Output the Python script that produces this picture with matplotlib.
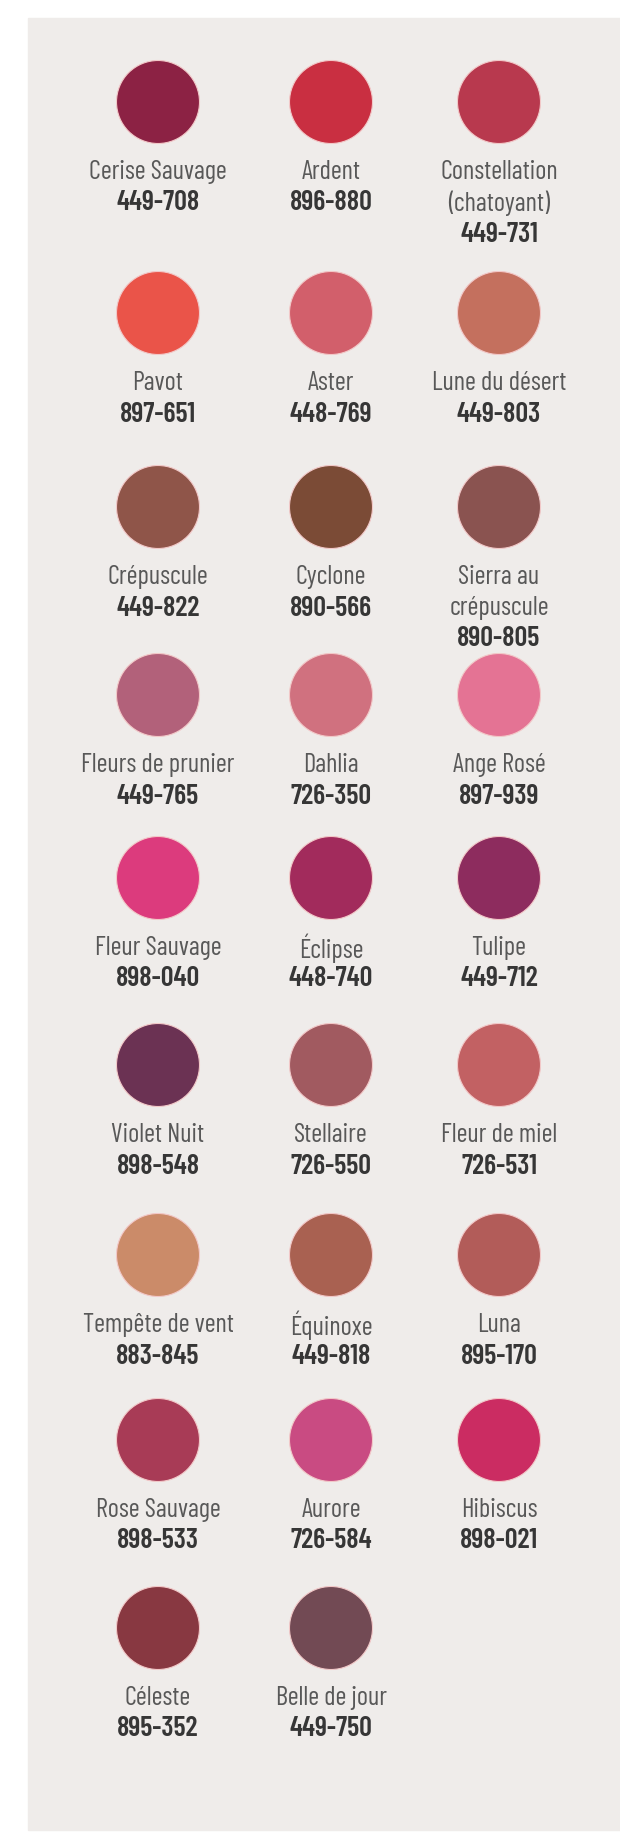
import matplotlib
matplotlib.use("Agg")
from matplotlib import pyplot as plt
from matplotlib import font_manager
from matplotlib.patches import Circle, Rectangle

# teintes, dans l'ordre de lecture (gauche -> droite, haut -> bas)
noms = ['Cerise Sauvage', 'Ardent', 'Constellation\n(chatoyant)',
        'Pavot', 'Aster', 'Lune du désert',
        'Crépuscule', 'Cyclone', 'Sierra au\ncrépuscule',
        'Fleurs de prunier', 'Dahlia', 'Ange Rosé',
        'Fleur Sauvage', 'Éclipse', 'Tulipe',
        'Violet Nuit', 'Stellaire', 'Fleur de miel',
        'Tempête de vent', 'Équinoxe', 'Luna',
        'Rose Sauvage', 'Aurore', 'Hibiscus',
        'Céleste', 'Belle de jour']
codes = ['449-708', '896-880', '449-731',
         '897-651', '448-769', '449-803',
         '449-822', '890-566', '890-805',
         '449-765', '726-350', '897-939',
         '898-040', '448-740', '449-712',
         '898-548', '726-550', '726-531',
         '883-845', '449-818', '895-170',
         '898-533', '726-584', '898-021',
         '895-352', '449-750']
couleurs = ['#8c2244', '#c92f41', '#b8394e',
            '#ea5449', '#d25f6b', '#c4705e',
            '#8f5549', '#7b4b36', '#8a5350',
            '#b2617a', '#d0717f', '#e47394',
            '#dc3b7d', '#a22b5c', '#8d2c5e',
            '#6b3253', '#a15a60', '#c26163',
            '#cb8b69', '#a96151', '#b25c59',
            '#a83b56', '#c94b82', '#cb2c62',
            '#883841', '#724a54']

# mise en page (pixels)
W, H = 620, 1834
col_x = [158, 331, 499]
row_y = [102, 313, 507, 695, 878, 1065, 1255, 1440, 1628]
rayon = 41.5
interligne = 31

# police etroite si dispo
candidats = ['Barlow Condensed', 'Fira Sans Extra Condensed', 'Fira Sans Condensed',
             'Roboto Condensed', 'Archivo Narrow', 'Liberation Sans Narrow', 'DejaVu Sans']
dispo = {f.name for f in font_manager.fontManager.ttflist}
police = next(c for c in candidats if c in dispo)
plt.rcParams['font.family'] = [police, 'DejaVu Sans']

fig = plt.figure(figsize=(W / 100, H / 100), dpi=100)
ax = fig.add_axes([0, 0, 1, 1])
ax.set_xlim(0, W)
ax.set_ylim(H, 0)
ax.axis('off')

# taille de police calee sur la largeur des textes du modele
rend = fig.canvas.get_renderer()
def largeur(s, **kw):
    t = ax.text(0, 0, s, fontsize=20, **kw)
    w = t.get_window_extent(rend).width
    t.remove()
    return w
taille_nom = 20 * 138 / largeur('Cerise Sauvage')
taille_code = 20 * 83 / largeur('449-708', fontweight='semibold')

ax.add_patch(Rectangle((28, 18), W - 28, H - 22, color='#efecea', zorder=0))

for i, (nom, code, coul) in enumerate(zip(noms, codes, couleurs)):
    x = col_x[i % 3]
    y = row_y[i // 3]
    ax.add_patch(Circle((x, y), rayon, color=coul, ec='#f2c8c8', lw=0.8, zorder=2))
    ty = y + 70
    for ligne in nom.split('\n'):
        ax.text(x, ty, ligne, ha='center', va='center', fontsize=taille_nom,
                color='#585858', zorder=3)
        ty += interligne
    ax.text(x, ty, code, ha='center', va='center', fontsize=taille_code,
            fontweight='semibold', color='#363636', zorder=3)

fig.savefig('out.png', dpi=100, facecolor='white')
